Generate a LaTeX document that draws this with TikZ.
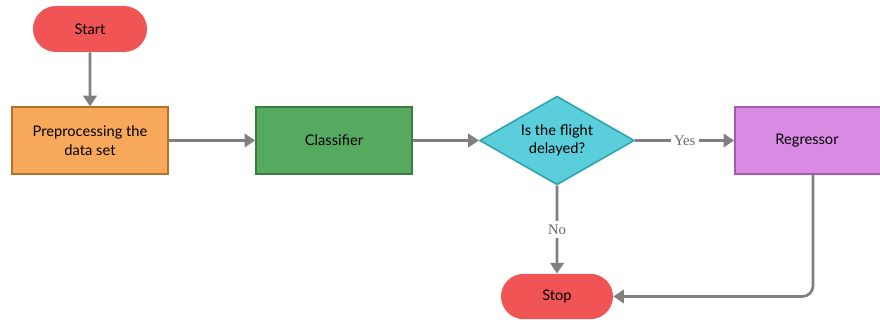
\documentclass[tikz,border=0pt]{standalone}
\usepackage{fontspec}
\setmainfont{Lato}
\newfontfamily\lblfont{Liberation Serif}
\usetikzlibrary{shapes.geometric,shapes.misc,arrows.meta,positioning}
\definecolor{termred}{HTML}{F05454}
\definecolor{orfill}{HTML}{F7A85B}
\definecolor{ordraw}{HTML}{B5702A}
\definecolor{grfill}{HTML}{55AA60}
\definecolor{grdraw}{HTML}{3A7D3F}
\definecolor{cyfill}{HTML}{5BCEDB}
\definecolor{cydraw}{HTML}{2FA3B0}
\definecolor{pufill}{HTML}{D98BE3}
\definecolor{pudraw}{HTML}{A05BB0}
\definecolor{linegray}{HTML}{808080}
\begin{document}
\begin{tikzpicture}[x=0.75pt,y=-0.75pt,
  font=\fontsize{11}{14}\selectfont,
  term/.style={draw=none,fill=termred,rounded rectangle,minimum width=85.5pt,minimum height=34.5pt,inner sep=0pt},
  procbox/.style={draw,line width=1.2pt,minimum width=117pt,minimum height=50pt,align=center,inner sep=0pt},
  conn/.style={draw=linegray,line width=2pt,-{Triangle[length=8pt,width=10pt]}},
  lbl/.style={font=\lblfont\fontsize{11}{13}\selectfont,text=linegray!80!black,fill=white,inner sep=2.5pt}]
\useasboundingbox (0,0) rectangle (880,320);
\node[term] (start) at (90,29) {Start};
\node[procbox,fill=orfill,draw=ordraw] (pre) at (90,140.5) {Preprocessing the\\data set};
\node[procbox,fill=grfill,draw=grdraw] (cls) at (334,140.5) {Classifier};
\node[diamond,aspect=1.74,fill=cyfill,draw=cydraw,line width=1.2pt,minimum width=116pt,minimum height=66.5pt,inner sep=0pt,align=center] (dec) at (557,140.5) {Is the flight\\delayed?};
\node[procbox,fill=pufill,draw=pudraw] (reg) at (813,140.5) {};
\node (regtext) at (807,140.5) {Regressor};
\node[term,minimum width=84pt,minimum height=34pt] (stop) at (557,296.5) {Stop};
\draw[conn] (start) -- (pre);
\draw[conn] (pre) -- (cls);
\draw[conn] (cls) -- (dec.west);
\draw[conn] (dec.east) -- node[lbl] (yes) {Yes} (reg);
\draw[conn] (dec.south) -- node[lbl] (no) {No} (stop);
\draw[conn,rounded corners=8pt] (reg.south) |- (stop.east);
\end{tikzpicture}
\end{document}
